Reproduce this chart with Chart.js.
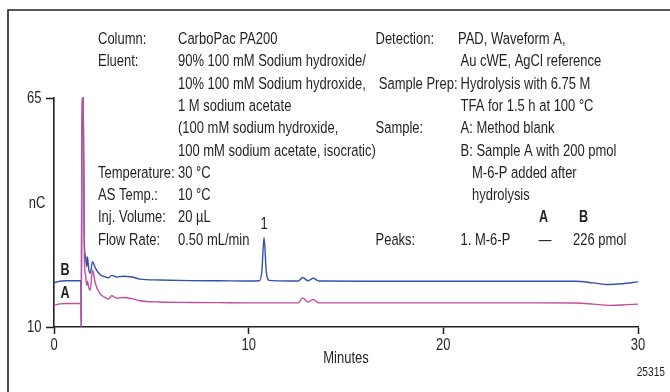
<!DOCTYPE html>
<html>
<head>
<meta charset="utf-8">
<script src="https://cdn.jsdelivr.net/npm/chart.js@4/dist/chart.umd.min.js"></script>
<style>
  html, body { margin: 0; padding: 0; background: #ffffff; }
  canvas { display: block; }
</style>
</head>
<body>
<canvas id="c" width="670" height="392"></canvas>
<script>
// ---------------- data ----------------
const timeMin = [0, 0.3, 0.6, 1.38, 1.40, 1.44, 1.50, 1.56, 1.62, 1.68, 1.72, 1.78, 1.86, 1.98, 2.12, 2.36, 2.67, 2.80, 2.96, 3.22, 3.56, 4.0, 4.42, 5.4, 7.0, 8.5, 10.0, 10.55, 10.68, 10.79, 10.9, 11.05, 12.0, 12.55, 12.77, 13.05, 13.32, 13.6, 16.0, 20.0, 24.0, 26.8, 27.7, 28.5, 29.2, 30.0];
const signalB = [20.6, 21.0, 21.1, 21.1, 10, 65, 65, 30, 27.0, 24.5, 26.8, 24.0, 22.9, 25.7, 24.2, 22.6, 22.0, 21.8, 22.4, 22.0, 22.2, 22.0, 21.5, 21.3, 21.15, 21.1, 21.05, 21.1, 23.5, 31.5, 23.5, 21.2, 21.05, 21.05, 21.9, 21.1, 21.7, 21.05, 21.0, 21.0, 21.0, 21.0, 20.6, 20.2, 20.4, 20.85];
const signalA = [15.2, 15.55, 15.65, 15.65, 10, 65, 65, 26, 22.5, 20.0, 21.0, 19.5, 18.8, 23.7, 20.5, 18.0, 17.0, 16.7, 17.5, 16.9, 17.1, 16.8, 16.3, 16.0, 15.9, 15.85, 15.8, 15.8, 15.8, 15.8, 15.8, 15.8, 15.8, 15.8, 17.0, 16.0, 16.6, 15.8, 15.8, 15.8, 15.8, 15.75, 15.5, 15.2, 15.3, 15.5];
const xTicks = [0, 10, 20, 30];
const yTicks = [10, 65];
const xTitle = "Minutes";
const yTitle = "nC";
const peakLabels = ["1"];
const peakTimes = [10.79];
const peakValues = [31.5];
const traceLabels = ["B", "A"];

const leftLabels = ["Column:", "Eluent:", "", "", "", "", "Temperature:", "AS Temp.:", "Inj. Volume:", "Flow Rate:"];
const leftValues = ["CarboPac PA200", "90% 100 mM Sodium hydroxide/", "10% 100 mM Sodium hydroxide,", "1 M sodium acetate", "(100 mM sodium hydroxide,", "100 mM sodium acetate, isocratic)", "30 °C", "10 °C", "20 µL", "0.50 mL/min"];
const rightLabels = ["Detection:", "", "Sample Prep:", "", "Sample:", "", "", "", "", "Peaks:"];
const rightValues = ["PAD, Waveform A,", "Au cWE, AgCl reference", "Hydrolysis with 6.75 M", "TFA for 1.5 h at 100 °C", "A: Method blank", "B: Sample A with 200 pmol", "M-6-P added after", "hydrolysis", "", "1. M-6-P"];
const peakTableHeader = ["A", "B"];
const peakTableRow = ["—", "226 pmol"];
const figureId = "25315";

// ---------------- styles ----------------
const FONT = '"Liberation Sans", Arial, "DejaVu Sans", sans-serif';
const INK = '#231f20';
const BLUE = '#3550a8';
const PINK = '#c24d9e';
const FS = 17.2;            // text size (px)
const K = 13.0 / FS;        // horizontal condensing factor (condensed type look)

function txt(c, s, x, y, align) {
  c.save();
  c.translate(x, y);
  c.scale(K, 1);
  c.textAlign = align || 'left';
  c.fillText(s, 0, 0);
  c.restore();
}

const annotate = {
  id: 'annotate',
  beforeDraw(chart) {
    const c = chart.ctx;
    c.save();
    c.fillStyle = '#ffffff';
    c.fillRect(0, 0, chart.width, chart.height);
    c.restore();
  },
  afterDraw(chart) {
    const c = chart.ctx;
    const xs = chart.scales.x, ys = chart.scales.y;
    c.save();
    // frame
    c.strokeStyle = INK;
    c.lineWidth = 1.6;
    c.beginPath();
    c.moveTo(8, 392);
    c.lineTo(8, 10);
    c.lineTo(670, 10);
    c.stroke();

    c.fillStyle = INK;
    c.textBaseline = 'middle';
    c.font = FS + 'px ' + FONT;

    const row0 = 39.3, dy = 22.3;
    for (let i = 0; i < leftLabels.length; i++) {
      const y = row0 + i * dy;
      if (leftLabels[i]) txt(c, leftLabels[i], 98, y);
      if (leftValues[i]) txt(c, leftValues[i], 178, y);
    }
    for (let i = 0; i < rightLabels.length; i++) {
      const y = row0 + i * dy;
      if (rightLabels[i]) {
        if (i === 2) txt(c, rightLabels[i], 457.5, y, 'right');
        else txt(c, rightLabels[i], 375.5, y);
      }
      if (rightValues[i]) {
        const vx = (i === 6 || i === 7) ? 472 : (i === 0 ? 458 : 460.5);
        txt(c, rightValues[i], vx, y);
      }
    }
    // peak table
    const rowPk = row0 + 9 * dy;
    txt(c, peakTableRow[0], 545, rowPk, 'center');
    txt(c, peakTableRow[1], 573, rowPk);
    c.font = 'bold ' + (FS - 0.5) + 'px ' + FONT;
    txt(c, peakTableHeader[0], 543.5, row0 + 8 * dy, 'center');
    txt(c, peakTableHeader[1], 583.5, row0 + 8 * dy, 'center');

    // trace labels
    txt(c, traceLabels[0], 65, 270, 'center');
    txt(c, traceLabels[1], 65, 293.5, 'center');

    // peak labels
    c.font = FS + 'px ' + FONT;
    for (let i = 0; i < peakLabels.length; i++) {
      txt(c, peakLabels[i], xs.getPixelForValue(peakTimes[i]), ys.getPixelForValue(peakValues[i]) - 13, 'center');
    }
    // tick labels
    for (const v of xTicks) txt(c, String(v), xs.getPixelForValue(v), 345.5, 'center');
    for (const v of yTicks) txt(c, String(v), 41.5, ys.getPixelForValue(v), 'right');
    // axis titles
    txt(c, xTitle, (xs.left + xs.right) / 2, 358.5, 'center');
    txt(c, yTitle, 37, 203.5, 'center');
    // figure id
    c.font = '13.5px ' + FONT;
    txt(c, figureId, 665, 372, 'right');
    c.restore();
  }
};

const toPoints = (vals) => timeMin.map((t, i) => ({ x: t, y: vals[i] }));

new Chart(document.getElementById('c'), {
  type: 'line',
  data: {
    datasets: [
      { label: 'A', data: toPoints(signalA), borderColor: PINK, borderWidth: 1.4, pointRadius: 0, cubicInterpolationMode: 'monotone', fill: false, clip: false },
      { label: 'B', data: toPoints(signalB), borderColor: BLUE, borderWidth: 1.4, pointRadius: 0, cubicInterpolationMode: 'monotone', fill: false, clip: false }
    ]
  },
  options: {
    responsive: false,
    animation: false,
    devicePixelRatio: 1,
    layout: { padding: { top: 98, right: 32, left: 0, bottom: 0 } },
    plugins: { legend: { display: false }, tooltip: { enabled: false } },
    scales: {
      x: {
        type: 'linear', min: 0, max: 30,
        afterBuildTicks(s) { s.ticks = xTicks.map(v => ({ value: v })); },
        ticks: { display: false },
        grid: { drawOnChartArea: false, drawTicks: true, tickLength: 7, tickColor: INK, tickWidth: 1.5 },
        border: { display: true, color: INK, width: 1.6 },
        afterFit(s) { s.height = 65; }
      },
      y: {
        type: 'linear', min: 10, max: 65,
        afterBuildTicks(s) { s.ticks = yTicks.map(v => ({ value: v })); },
        ticks: { display: false },
        grid: { drawOnChartArea: false, drawTicks: true, tickLength: 8, tickColor: INK, tickWidth: 1.5 },
        border: { display: true, color: INK, width: 1.6 },
        afterFit(s) { s.width = 54; }
      }
    }
  },
  plugins: [annotate]
});
</script>
</body>
</html>
